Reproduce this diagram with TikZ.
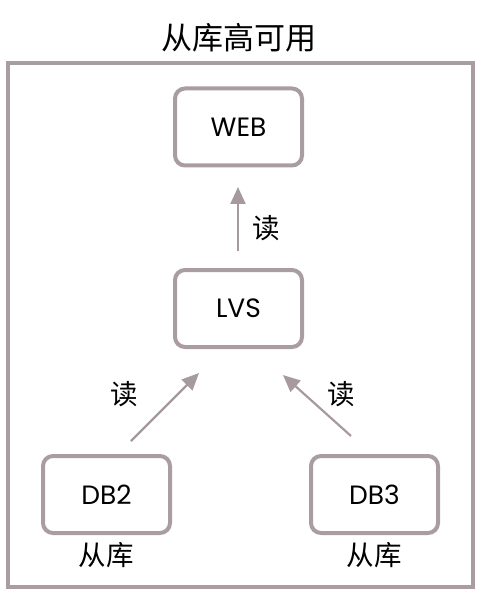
\documentclass[tikz,border=0pt]{standalone}
\usepackage{fontspec}
\setmainfont{Poppins}
\newfontfamily\cjk{Noto Sans CJK SC}
\usetikzlibrary{arrows.meta}
\definecolor{frm}{HTML}{A99DA3}
\definecolor{arr}{HTML}{A69AA0}
\tikzset{
  x=1pt,y=-1pt,
  box/.style={draw=frm,line width=4pt,rounded corners=10pt,minimum width=127pt,minimum height=77pt,font=\fontsize{26.5}{30}\selectfont,fill=white},
  lbl/.style={font=\cjk\fontsize{27.5}{30}\selectfont},
  conn/.style={draw=arr,line width=2.2pt,-{Triangle[length=17pt,width=15pt]}}
}
\begin{document}
\begin{tikzpicture}
\useasboundingbox (0,0) rectangle (482,601);
\node[lbl,font=\cjk\fontsize{31}{34}\selectfont] (title) at (239,38) {从库高可用};
\draw[frm,line width=4pt] (8,63) rectangle (473,587);
\node[box] (web) at (238.5,127) {WEB};
\node[box] (lvs) at (238.5,308.5) {LVS};
\node[box] (db2) at (106.5,494.5) {DB2};
\node[box] (db3) at (374.5,494.5) {DB3};
\node[lbl] (l2) at (106,555) {从库};
\node[lbl] (l3) at (374,555) {从库};
\coordinate (a1s) at (238,251);
\coordinate (a1e) at (238,187);
\coordinate (a2s) at (131,441);
\coordinate (a2e) at (199,373);
\coordinate (a3s) at (351,436);
\coordinate (a3e) at (283,375);
\draw[conn] (a1s) -- (a1e);
\draw[conn] (a2s) -- (a2e);
\draw[conn] (a3s) -- (a3e);
\node[lbl] (r1) at (266,228) {读};
\node[lbl] (r2) at (124,394) {读};
\node[lbl] (r3) at (341,394) {读};
\end{tikzpicture}
\end{document}
